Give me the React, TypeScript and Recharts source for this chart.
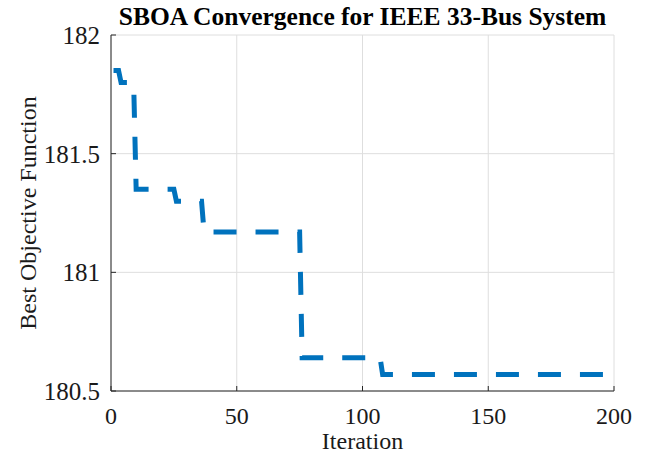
import React from "react";
import {
  LineChart,
  Line,
  XAxis,
  YAxis,
  CartesianGrid,
} from "recharts";

// best objective value recorded at the iterations where it changes
const iterations = [1, 3, 4, 9, 10, 25, 26, 36, 37, 75, 76, 107, 108, 200];
const bestValues = [
  181.85, 181.85, 181.8, 181.8, 181.35, 181.35, 181.3, 181.3, 181.17, 181.17,
  180.64, 180.64, 180.57, 180.57,
];
const xTicks = [0, 50, 100, 150, 200];
const yTicks = [180.5, 181, 181.5, 182];

const data = iterations.map((it, i) => ({ iter: it, best: bestValues[i] }));

const font = "'Liberation Serif', 'Times New Roman', serif";
const axisColor = "#262626";
const textColor = "#1a1a1a";

const App = () => {
  return (
    <div style={{ position: "absolute", left: 0, top: 0, width: 645, height: 454, background: "#fff" }}>
      <div
        style={{
          position: "absolute",
          left: 111,
          width: 503,
          top: 2,
          textAlign: "center",
          fontFamily: font,
          fontWeight: "bold",
          fontSize: 25.5,
          color: "#000",
          whiteSpace: "nowrap",
        }}
      >
        SBOA Convergence for IEEE 33-Bus System
      </div>
      <LineChart
        width={645}
        height={454}
        data={data}
        margin={{ top: 35, right: 31, left: 0, bottom: 0 }}
      >
        <CartesianGrid stroke="#dedede" strokeWidth={1} />
        <XAxis
          dataKey="iter"
          type="number"
          domain={[0, 200]}
          ticks={xTicks}
          height={63}
          tickSize={-5}
          tickMargin={21}
          stroke={axisColor}
          tick={{ fill: textColor, fontSize: 24, fontFamily: font }}
          label={{
            value: "Iteration",
            position: "insideBottom",
            offset: 5,
            fill: textColor,
            fontSize: 24,
            fontFamily: font,
          }}
        />
        <XAxis
          xAxisId="top"
          orientation="top"
          type="number"
          domain={[0, 200]}
          ticks={xTicks}
          height={0}
          tick={false}
          tickSize={-5}
          stroke={axisColor}
        />
        <YAxis
          type="number"
          domain={[180.5, 182]}
          ticks={yTicks}
          width={111}
          tickSize={-5}
          tickMargin={16}
          stroke={axisColor}
          tick={{ fill: textColor, fontSize: 25, fontFamily: font }}
          label={{
            value: "Best Objective Function",
            angle: -90,
            position: "center",
            dx: -28,
            fill: textColor,
            fontSize: 24,
            fontFamily: font,
          }}
        />
        <YAxis
          yAxisId="right"
          orientation="right"
          type="number"
          domain={[180.5, 182]}
          ticks={yTicks}
          width={0}
          tick={false}
          tickSize={-5}
          stroke={axisColor}
        />
        <Line
          type="linear"
          dataKey="best"
          stroke="#0072BD"
          strokeWidth={5}
          strokeDasharray="23 19"
          dot={false}
          isAnimationActive={false}
        />
      </LineChart>
    </div>
  );
};

export default App;
